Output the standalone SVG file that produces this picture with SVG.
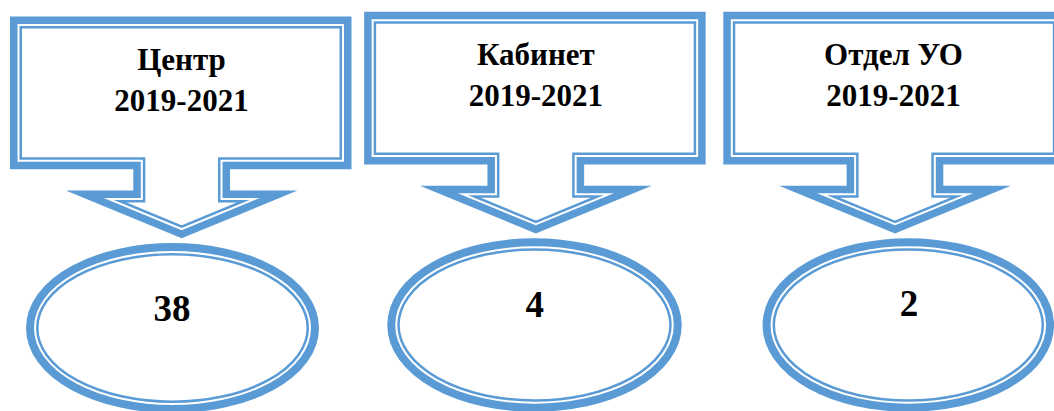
<svg xmlns="http://www.w3.org/2000/svg" xmlns:xlink="http://www.w3.org/1999/xlink" width="1054" height="411" viewBox="0 0 1054 411">
  <style>
    .o { fill: none; stroke: #5B9BD5; stroke-width: 21.5; stroke-linejoin: miter; stroke-miterlimit: 10; }
    .m { fill: #FFFFFF; stroke: #FFFFFF; stroke-width: 6.5; stroke-linejoin: miter; stroke-miterlimit: 10; }
    .i { fill: none; stroke: #5B9BD5; stroke-width: 2.5; stroke-linejoin: miter; stroke-miterlimit: 10; }
    .eo { fill: none; stroke: #5B9BD5; stroke-width: 22.5; }
    .em { fill: #FFFFFF; stroke: #FFFFFF; stroke-width: 6.5; }
    .ei { fill: none; stroke: #5B9BD5; stroke-width: 2.5; }
    .t { font-family: "Liberation Serif", "Times New Roman", serif; font-weight: bold; font-size: 31px; fill: #000000; text-anchor: middle; }
    .n { font-family: "Liberation Serif", "Times New Roman", serif; font-weight: bold; font-size: 37px; fill: #000000; text-anchor: middle; }
  </style>
  <defs>
    <path id="co" d="M20.75,27.25 H340.75 V158.55 H219.25 V201.25 H243.3 L181.7,226.65 L120.1,201.25 H144.05 V158.55 H20.75 Z"/>
  </defs>
  <rect width="1054" height="411" fill="#FFFFFF"/>

  <g id="box-center">
    <use xlink:href="#co" href="#co" class="o"/>
    <use xlink:href="#co" href="#co" class="m"/>
    <use xlink:href="#co" href="#co" class="i"/>
    <text class="t" x="181.5" y="70">Центр</text>
    <text class="t" x="181.5" y="111">2019-2021</text>
  </g>

  <g id="box-cabinet" transform="translate(354.15,-4.8)">
    <use xlink:href="#co" href="#co" class="o"/>
    <use xlink:href="#co" href="#co" class="m"/>
    <use xlink:href="#co" href="#co" class="i"/>
    <text class="t" x="181.7" y="69.8">Кабинет</text>
    <text class="t" x="181.7" y="110.8">2019-2021</text>
  </g>

  <g id="box-otdel" transform="translate(713.3,-4.8)">
    <use xlink:href="#co" href="#co" class="o"/>
    <use xlink:href="#co" href="#co" class="m"/>
    <use xlink:href="#co" href="#co" class="i"/>
    <text class="t" x="180.2" y="69.8">Отдел УО</text>
    <text class="t" x="180.2" y="110.8">2019-2021</text>
  </g>

  <g id="ellipse-center">
    <ellipse class="eo" cx="172.5" cy="328" rx="135.25" ry="73.75"/>
    <ellipse class="em" cx="172.5" cy="328" rx="135.25" ry="73.75"/>
    <ellipse class="ei" cx="172.5" cy="328" rx="135.25" ry="73.75"/>
    <text class="n" x="172" y="320.7">38</text>
  </g>

  <g id="ellipse-cabinet">
    <ellipse class="eo" cx="534.5" cy="325" rx="136" ry="75.5"/>
    <ellipse class="em" cx="534.5" cy="325" rx="136" ry="75.5"/>
    <ellipse class="ei" cx="534.5" cy="325" rx="136" ry="75.5"/>
    <text class="n" x="534.7" y="316.7">4</text>
  </g>

  <g id="ellipse-otdel">
    <ellipse class="eo" cx="908.3" cy="325" rx="134.5" ry="75.5"/>
    <ellipse class="em" cx="908.3" cy="325" rx="134.5" ry="75.5"/>
    <ellipse class="ei" cx="908.3" cy="325" rx="134.5" ry="75.5"/>
    <text class="n" x="909" y="316">2</text>
  </g>

  <g id="connectors"></g>
</svg>
